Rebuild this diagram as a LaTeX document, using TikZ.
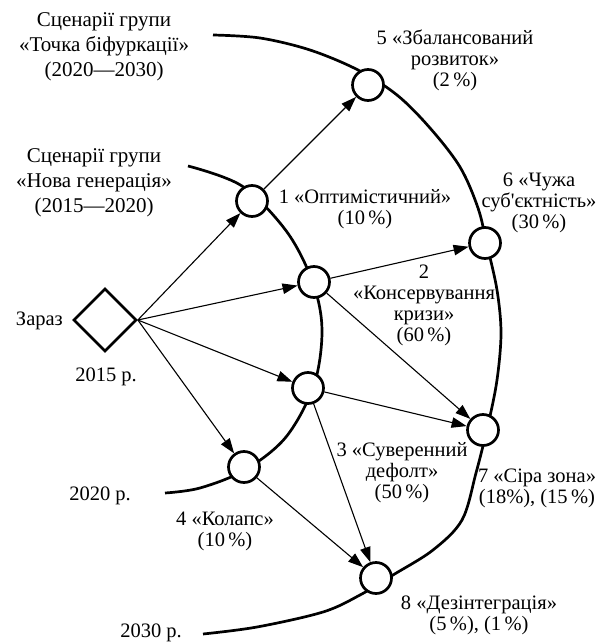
\documentclass[tikz,border=0pt]{standalone}
\usepackage{fontspec}
\setmainfont{Liberation Serif}
\usetikzlibrary{shapes.geometric,arrows.meta}
\begin{document}
\begin{tikzpicture}[x=1pt,y=-1pt,
  thickline/.style={line width=2.7pt},
  sc/.style={circle,draw,line width=2.7pt,fill=white,minimum size=31pt,inner sep=0pt},
  arr/.style={line width=1.1pt,-{Triangle[length=15pt,width=10.5pt]}},
  lab/.style={align=center,inner sep=0pt,font=\fontsize{20.5}{21}\selectfont},
  grp/.style={align=center,inner sep=0pt,font=\fontsize{21}{25}\selectfont}]
\useasboundingbox (0,0) rectangle (596,644);
% inner arc (2015-2020)
\draw[thickline] plot[smooth,tension=0.55] coordinates {(188,166) (242,186) (287,232) (313,283) (322,330) (314,385) (286,437) (245,470) (200,488) (165,493)};
% outer arc (2020-2030)
\draw[thickline] plot[smooth,tension=0.55] coordinates {(213,35) (260,38) (310,50) (358,70) (397,95) (430,128) (460,167) (478,208) (487,245) (497,290) (501,333) (497,380) (488,425) (476,473) (462,520) (433,550) (393,575) (360,595) (323,612) (257,627) (203,634)};
% nodes
\node[diamond,draw,line width=2.7pt,minimum width=63pt,minimum height=63pt,inner sep=0pt,aspect=1] (d) at (105,320) {};
\node[sc] (n1) at (252,201) {};
\node[sc] (n2) at (314,282) {};
\node[sc] (n3) at (308,388) {};
\node[sc] (n4) at (244,467) {};
\node[sc] (n5) at (368,85) {};
\node[sc] (n6) at (485,243) {};
\node[sc] (n7) at (483,430) {};
\node[sc] (n8) at (376,578) {};
% arrows
\draw[arr] (d.east) -- (n1);
\draw[arr] (d.east) -- (n2);
\draw[arr] (d.east) -- (n3);
\draw[arr] (d.east) -- (n4);
\draw[arr] (n1) -- (n5);
\draw[arr] (n2) -- (n6);
\draw[arr] (n2) -- (n7);
\draw[arr] (n3) -- (n7);
\draw[arr] (n3) -- (n8);
\draw[arr] (n4) -- (n8);
% labels
\node[grp] (gB) at (104,47) {Сценарії групи\\«Точка біфуркації»\\(2020—2030)};
\node[grp] (gA) at (94,183) {Сценарії групи\\«Нова генерація»\\(2015—2020)};
\node[lab,anchor=east] (now) at (63,321) {Зараз};
\node[lab] (y15) at (106,377) {2015 р.};
\node[lab] (y20) at (100,496) {2020 р.};
\node[lab] (y30) at (151,633) {2030 р.};
\node[lab] (l1) at (365,209) {1 «Оптимістичний»\\(10\,\%)};
\node[lab] (l5) at (455,60) {5 «Збалансований\\розвиток»\\(2\,\%)};
\node[lab] (l6) at (539,203) {6 «Чужа\\суб\textquotesingle єктність»\\(30\,\%)};
\node[lab] (l2) at (424,305) {2\\«Консервування\\кризи»\\(60\,\%)};
\node[lab] (l3) at (402,473) {3 «Суверенний\\дефолт»\\(50\,\%)};
\node[lab] (l7) at (537,488) {7 «Сіра зона»\\(18\%), (15\,\%)};
\node[lab] (l4) at (225,531) {4 «Колапс»\\(10\,\%)};
\node[lab] (l8) at (479,615) {8 «Дезінтеграція»\\(5\,\%), (1\,\%)};
\end{tikzpicture}
\end{document}
